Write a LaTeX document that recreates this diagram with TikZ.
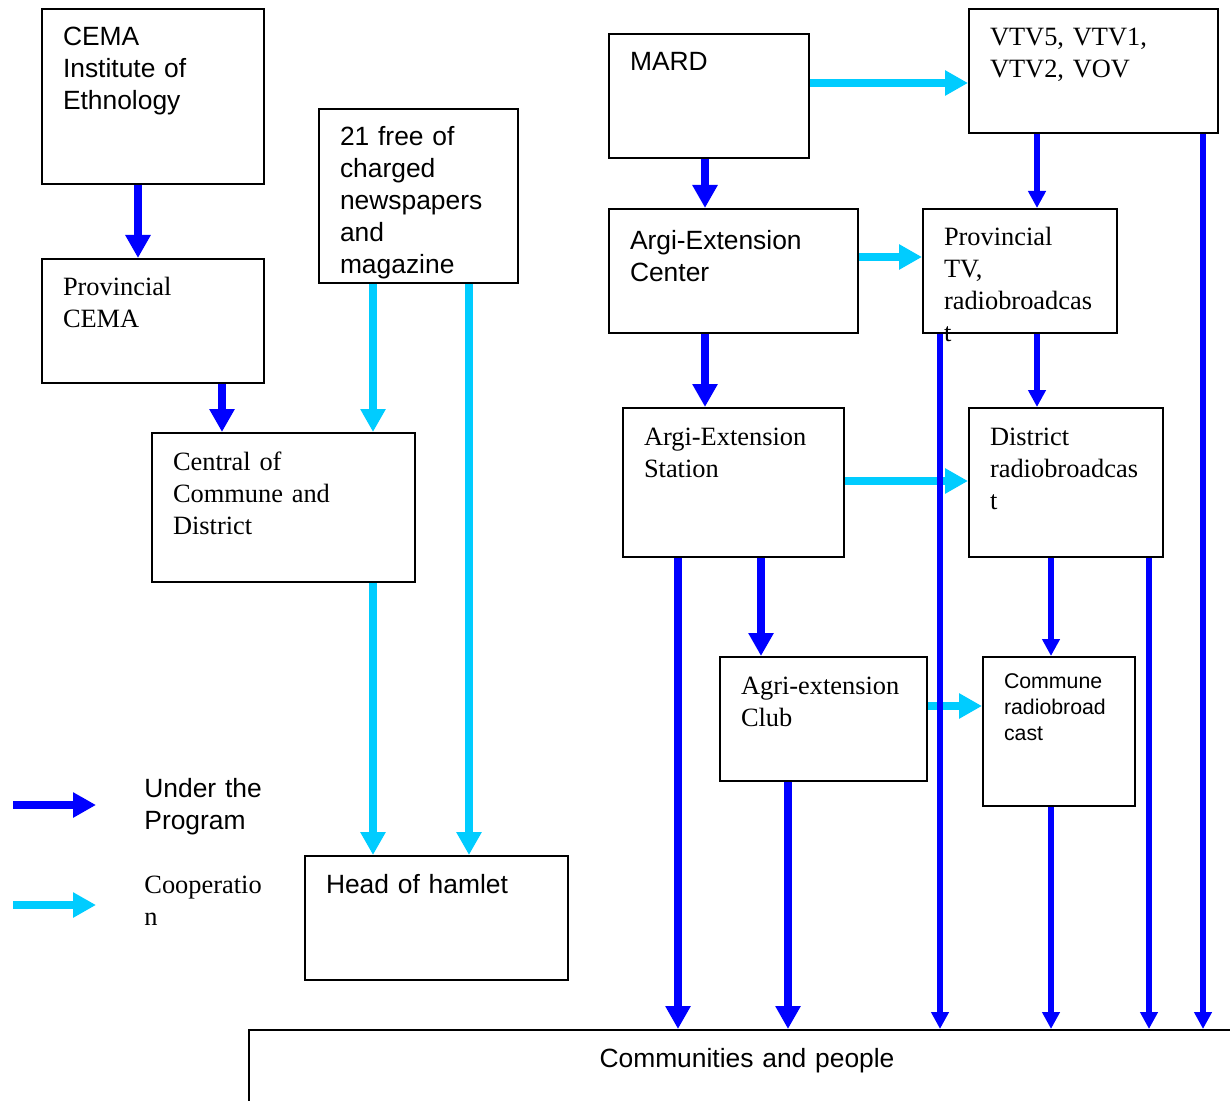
\documentclass[tikz,border=0pt]{standalone}
\usepackage{fontspec}
\setmainfont{Liberation Serif}
\setsansfont{Liberation Sans}
\usetikzlibrary{arrows.meta}
\definecolor{progblue}{RGB}{0,0,255}
\definecolor{coopcyan}{RGB}{0,204,255}
\hyphenpenalty=10000
\exhyphenpenalty=10000

\tikzset{
  boxst/.style={draw,line width=1pt,anchor=north west,align=left,inner xsep=10.5pt,inner ysep=0pt,text height=18.5pt},
  sans/.style={font=\fontsize{13.2}{16}\selectfont\sffamily},
  serif/.style={font=\fontsize{13.2}{16}\selectfont\rmfamily},
  prog/.style={progblue,line width=3.75pt,-{Triangle[width=12pt,length=11.5pt]}},
  progthin/.style={progblue,line width=3pt,-{Triangle[width=8.5pt,length=8.5pt]}},
  coop/.style={coopcyan,line width=3.75pt,-{Triangle[width=12pt,length=11.5pt]}}
}

\begin{document}
\begin{tikzpicture}[x=0.5pt,y=-0.5pt]
  \useasboundingbox (0,0) rectangle (1230,1101);

  % left column
  \node[boxst,sans,text width=90pt,text depth=69pt] (cema) at (41,8) {CEMA\\Institute of\\Ethnology};
  \node[boxst,serif,text width=90pt,text depth=43.5pt] (pcema) at (41,258) {Provincial\\CEMA};
  \node[boxst,sans,text width=78.5pt,text depth=68.5pt] (paper) at (318,108) {21 free of\\charged\\newspapers\\and\\magazine};
  \node[boxst,serif,text width=110.5pt,text depth=56pt] (central) at (151,432) {Central of\\Commune and\\District};
  \node[boxst,sans,text width=110.5pt,text depth=43.5pt] (hamlet) at (304,855) {Head of hamlet};

  % right part
  \node[boxst,sans,text width=79pt,text depth=43.5pt] (mard) at (608,33) {MARD};
  \node[boxst,serif,text width=103.5pt,text depth=43.5pt] (vtv) at (968,8) {VTV5, VTV1,\\VTV2, VOV};
  \node[boxst,sans,text width=103.5pt,text height=20.5pt,text depth=41.5pt] (center) at (608,208) {Argi-Extension\\Center};
  \node[boxst,serif,text width=76pt,text depth=43.5pt] (ptv) at (922,208) {Provincial\\TV,\\radiobroadcas\\t};
  \node[boxst,serif,text width=89.5pt,text depth=56pt] (station) at (622,407) {Argi-Extension\\Station};
  \node[boxst,serif,text width=76pt,text depth=56pt] (district) at (968,407) {District\\radiobroadcas\\t};
  \node[boxst,serif,text width=82.5pt,text depth=43.5pt] (club) at (719,656) {Agri-extension\\Club};
  \node[boxst,font=\fontsize{10.65}{13}\selectfont\sffamily,text width=55pt,text height=15.75pt,text depth=58.75pt] (commune) at (982,656) {Commune\\radiobroad\\cast};

  \node[boxst,sans,inner xsep=0pt,text width=498pt,align=center,text depth=60pt] (people) at (248,1029) {Communities and people};

  % legend
  \coordinate (lp1) at (13,805);
  \coordinate (lp2) at (96,805);
  \coordinate (lc1) at (13,905);
  \coordinate (lc2) at (96,905);
  \node[sans,anchor=north west,inner sep=0pt,text width=70pt,text height=18.5pt,align=left] (lprog) at (144,760) {Under the\\Program};
  \node[serif,anchor=north west,inner sep=0pt,text width=70pt,text height=18.5pt,align=left] (lcoop) at (144,856) {Cooperatio\\n};

  % cooperation
  \foreach \x/\a/\b in {373/paper/central,469/paper/hamlet,373/central/hamlet}
    \draw[coop] (\x,0 |- \a.south) -- (\x,0 |- \b.north);
  \foreach \y/\a/\b in {83/mard/vtv,257/center/ptv,481/station/district,706/club/commune}
    \draw[coop] (\a.east |- 0,\y) -- (\b.west |- 0,\y);
  \draw[coop] (lc1) -- (lc2);

  % under the program
  \foreach \x/\a/\b in {138/cema/pcema,222/pcema/central,705/mard/center,705/center/station,761/station/club,678/station/people,788/club/people}
    \draw[prog] (\x,0 |- \a.south) -- (\x,0 |- \b.north);
  \foreach \x/\a/\b in {1037/vtv/ptv,1037/ptv/district,940/ptv/people,1051/district/commune,1149/district/people,1203/vtv/people,1051/commune/people}
    \draw[progthin] (\x,0 |- \a.south) -- (\x,0 |- \b.north);
  \draw[prog] (lp1) -- (lp2);
\end{tikzpicture}
\end{document}
